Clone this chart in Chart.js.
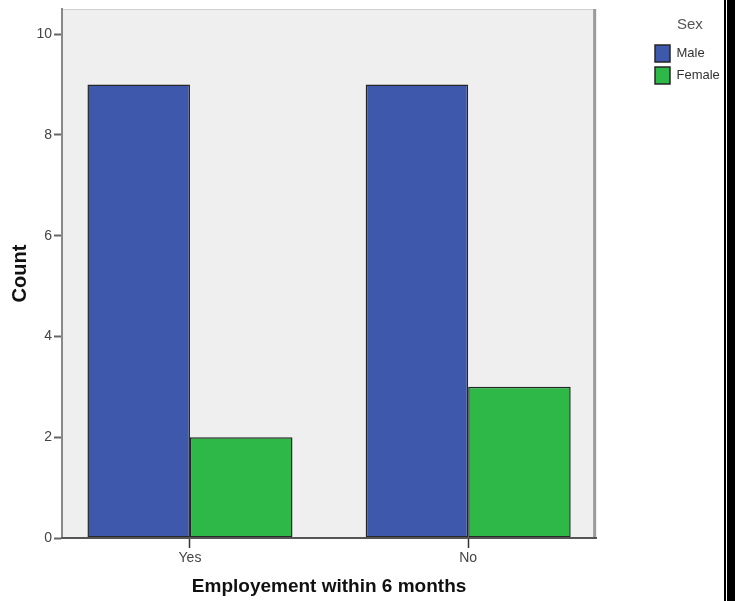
<!DOCTYPE html>
<html>
<head>
<meta charset="utf-8">
<script src="https://cdn.jsdelivr.net/npm/chart.js@4/dist/chart.umd.min.js"></script>
<style>
  html, body { margin: 0; padding: 0; background: #fff; }
  #wrap { position: relative; width: 735px; height: 601px; }
  #chart { position: absolute; left: 0; top: 0; }
  .edge-thin { position: absolute; left: 724px; top: 0; width: 2px; height: 601px; background: #000; }
  .edge-thick { position: absolute; left: 727px; top: 0; width: 8px; height: 601px; background: #000; }
</style>
</head>
<body>
<div id="wrap">
  <canvas id="chart" width="722" height="601"></canvas>
  <div class="edge-thin"></div>
  <div class="edge-thick"></div>
</div>
<script>
const categories = ['Yes', 'No'];
const maleCounts = [9, 9];
const femaleCounts = [2, 3];
const yTickValues = [0, 2, 4, 6, 8, 10];

const FONT = "'Liberation Sans', Arial, sans-serif";
Chart.defaults.font.family = FONT;

// grey plot panel + legend moved away from the plot
const plotFrame = {
  id: 'plotFrame',
  afterLayout(chart) {
    const lg = chart.legend;
    const w = lg.right - lg.left;
    lg.left = 650;
    lg.right = 650 + w;
  },
  beforeDraw(chart) {
    const { ctx, chartArea: a } = chart;
    ctx.save();
    ctx.fillStyle = '#efefef';
    ctx.fillRect(a.left, a.top, a.right - a.left, a.bottom - a.top);
    ctx.lineWidth = 1;
    ctx.strokeStyle = '#d0d0d0';
    ctx.beginPath();
    ctx.moveTo(a.left, a.top + 0.5);
    ctx.lineTo(a.right, a.top + 0.5);
    ctx.stroke();
    ctx.lineWidth = 3;
    ctx.strokeStyle = '#9a9a9a';
    ctx.beginPath();
    ctx.moveTo(a.right - 1.5, a.top);
    ctx.lineTo(a.right - 1.5, a.bottom);
    ctx.stroke();
    ctx.restore();
  }
};

const toPoints = arr => arr.map((v, i) => ({ x: i, y: v }));

new Chart(document.getElementById('chart'), {
  type: 'bar',
  data: {
    datasets: [
      {
        label: 'Male',
        data: toPoints(maleCounts),
        backgroundColor: '#3e58ac',
        borderColor: '#262626',
        borderWidth: 1.5,
        borderSkipped: false,
        categoryPercentage: 0.737,
        barPercentage: 1
      },
      {
        label: 'Female',
        data: toPoints(femaleCounts),
        backgroundColor: '#2eb848',
        borderColor: '#262626',
        borderWidth: 1.5,
        borderSkipped: false,
        categoryPercentage: 0.737,
        barPercentage: 1
      }
    ]
  },
  options: {
    responsive: false,
    animation: false,
    layout: { padding: { top: 7, right: 46, bottom: 0, left: 0 } },
    plugins: {
      tooltip: { enabled: false },
      legend: {
        position: 'right',
        align: 'start',
        title: {
          display: true,
          text: 'Sex',
          color: '#555',
          font: { size: 15 },
          padding: { top: 10, bottom: 5 }
        },
        labels: {
          boxWidth: 15,
          boxHeight: 17,
          padding: 5,
          color: '#333',
          font: { size: 13 }
        }
      }
    },
    scales: {
      x: {
        type: 'linear',
        min: -0.46,
        max: 1.46,
        offset: false,
        afterBuildTicks: s => { s.ticks = categories.map((c, i) => ({ value: i })); },
        afterFit: s => { s.height = 63; },
        grid: {
          offset: false,
          drawOnChartArea: false,
          drawTicks: true,
          tickLength: 10,
          tickColor: '#333',
          tickWidth: 1.5
        },
        border: { display: true, color: '#555', width: 2, z: 1 },
        ticks: {
          callback: v => categories[v],
          color: '#444',
          font: { size: 14, lineHeight: 1 },
          padding: 3,
          maxRotation: 0,
          autoSkip: false
        },
        title: {
          display: true,
          text: 'Employement within 6 months',
          color: '#111',
          font: { size: 19, weight: 'bold' },
          padding: { top: 0, bottom: 3 }
        }
      },
      y: {
        min: 0,
        max: 10.5,
        afterBuildTicks: s => { s.ticks = yTickValues.map(v => ({ value: v })); },
        afterFit: s => { s.width = 62; },
        grid: {
          drawOnChartArea: false,
          drawTicks: true,
          tickLength: 8,
          tickColor: '#666',
          tickWidth: 2
        },
        border: { display: true, color: '#888', width: 2 },
        ticks: {
          color: '#444',
          font: { size: 14, lineHeight: 1 },
          padding: 2
        },
        title: {
          display: true,
          text: 'Count',
          color: '#111',
          font: { size: 20, weight: 'bold' },
          padding: { top: 8, bottom: 0 }
        }
      }
    }
  },
  plugins: [plotFrame]
});
</script>
</body>
</html>
